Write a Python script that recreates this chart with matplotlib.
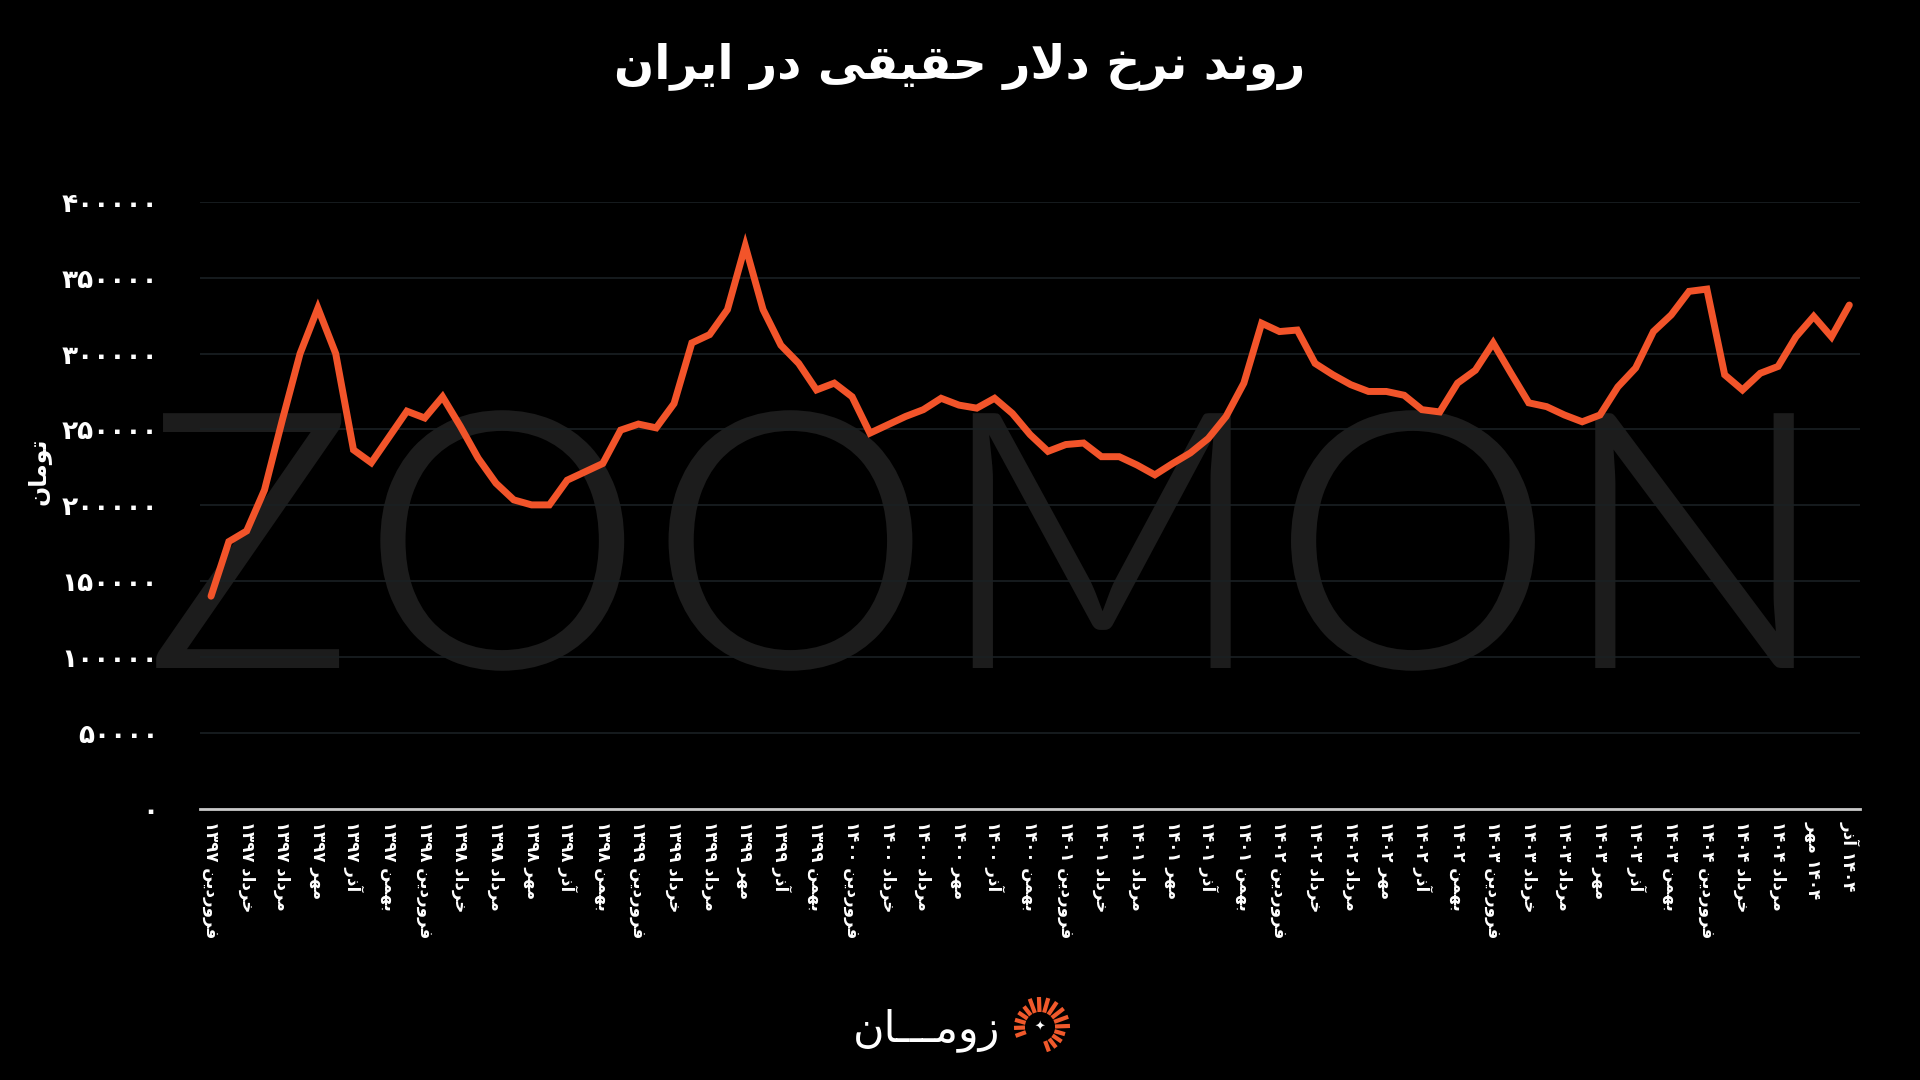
import numpy as np
import matplotlib
matplotlib.use('Agg')
import matplotlib.pyplot as plt
from matplotlib.textpath import TextPath
from matplotlib.patches import PathPatch
from matplotlib.font_manager import FontProperties
from matplotlib.transforms import Affine2D

# ---- data (Toman per USD, monthly, Farvardin 1397 .. Azar 1404) ----
months = ['فروردین', 'خرداد', 'مرداد', 'مهر', 'آذر', 'بهمن']
years = ['1397', '1398', '1399', '1400', '1401', '1402', '1403', '1404']
values = [
    140000, 176000, 183000, 210000, 256000, 300000, 330000, 300000, 236500, 228000,
    245000, 262000, 257500, 271500, 252000, 231000, 214500, 203500, 200200, 200200,
    216500, 222000, 227500, 249500, 253500, 251000, 267000, 307000, 312500, 329000,
    371000, 329000, 305500, 293500, 276000, 280500, 271500, 247500, 253000, 258500,
    263000, 270500, 266000, 264000, 270500, 260500, 246500, 235500, 240000, 241000,
    232000, 232000, 226500, 220000, 227500, 234500, 244000, 258500, 280500, 320000,
    314500, 315500, 293500, 286000, 279500, 275000, 275000, 272500, 263000, 261500,
    280500, 289000, 307000, 287000, 267500, 265000, 259500, 255000, 259500, 278000,
    290500, 314500, 325500, 341000, 342500, 286000, 276000, 287000, 291500, 311000,
    324500, 311000, 332000,
]
yticks = [0, 50000, 100000, 150000, 200000, 250000, 300000, 350000, 400000]
title = 'روند نرخ دلار حقیقی در ایران'
ylabel = 'تومان'
brand = 'زومـــان'

# ---- minimal persian shaping (matplotlib has no bidi / joining) ----
FORMS = {
    'ا': ('\uFE8D', '\uFE8E', None, None),
    'آ': ('\uFE81', '\uFE82', None, None),
    'ب': ('\uFE8F', '\uFE90', '\uFE91', '\uFE92'),
    'ت': ('\uFE95', '\uFE96', '\uFE97', '\uFE98'),
    'ح': ('\uFEA1', '\uFEA2', '\uFEA3', '\uFEA4'),
    'خ': ('\uFEA5', '\uFEA6', '\uFEA7', '\uFEA8'),
    'د': ('\uFEA9', '\uFEAA', None, None),
    'ذ': ('\uFEAB', '\uFEAC', None, None),
    'ر': ('\uFEAD', '\uFEAE', None, None),
    'ز': ('\uFEAF', '\uFEB0', None, None),
    'ف': ('\uFED1', '\uFED2', '\uFED3', '\uFED4'),
    'ق': ('\uFED5', '\uFED6', '\uFED7', '\uFED8'),
    'ل': ('\uFEDD', '\uFEDE', '\uFEDF', '\uFEE0'),
    'م': ('\uFEE1', '\uFEE2', '\uFEE3', '\uFEE4'),
    'ن': ('\uFEE5', '\uFEE6', '\uFEE7', '\uFEE8'),
    'ه': ('\uFEE9', '\uFEEA', '\uFEEB', '\uFEEC'),
    'و': ('\uFEED', '\uFEEE', None, None),
    'ی': ('\uFBFC', '\uFBFD', '\uFBFE', '\uFBFF'),
    'ـ': ('ـ', 'ـ', 'ـ', 'ـ'),
}
LAMALEF = {'ا': ('\uFEFB', '\uFEFC'), 'آ': ('\uFEF5', '\uFEF6')}


def dual(c):
    return c in FORMS and FORMS[c][2] is not None


def shape(word):
    out = []
    i = 0
    n = len(word)
    while i < n:
        c = word[i]
        prev = word[i - 1] if i > 0 else None
        nxt = word[i + 1] if i + 1 < n else None
        jp = prev is not None and dual(prev)
        if c == 'ل' and nxt in LAMALEF:
            out.append(LAMALEF[nxt][1 if jp else 0])
            i += 2
            continue
        if c not in FORMS:
            out.append(c)
            i += 1
            continue
        jn = dual(c) and nxt is not None and nxt in FORMS
        iso, fin, ini, med = FORMS[c]
        if jp and jn:
            out.append(med)
        elif jp:
            out.append(fin)
        elif jn:
            out.append(ini)
        else:
            out.append(iso)
        i += 1
    return ''.join(out)


def rtl(text):
    parts = []
    for w in text.split(' '):
        if any(ch in FORMS for ch in w):
            parts.append(shape(w)[::-1])
        else:
            parts.append(w)
    return ' '.join(reversed(parts))


FA_DIGITS = str.maketrans('0123456789', '۰۱۲۳۴۵۶۷۸۹')


def fa(s):
    return str(s).translate(FA_DIGITS)


# tick labels every two months
xlabels = []
for y in years:
    for m in months:
        if y == '1404' and m == 'بهمن':
            continue
        if y == '1404' and m in ('مهر', 'آذر'):
            xlabels.append(rtl(fa(y) + ' ' + m))
        else:
            xlabels.append(rtl(m + ' ' + fa(y)))

x = np.arange(len(values))

plt.rcParams['font.family'] = ['DejaVu Sans']
fig = plt.figure(figsize=(19.2, 10.8), dpi=100, facecolor='black')

# ZOOMON watermark stretched into its box (pixel coords); black edge thins the strokes
tp = TextPath((0, 0), 'ZOOMON', size=100, prop=FontProperties(family='Lato'))
ext = tp.get_extents()
W, H = 1920.0, 1080.0
x0, x1, ytop, ybot = 151, 1799, 405, 676
sx = (x1 - x0) / ext.width / W
sy = (ybot - ytop) / ext.height / H
wm = Affine2D().translate(-ext.x0, -ext.y0).scale(sx, sy).translate(x0 / W, 1 - ybot / H)
fig.patches.append(PathPatch(tp, transform=wm + fig.transFigure, facecolor='#1c1c1c',
                             edgecolor='black', lw=7.5, zorder=-5))

ax = fig.add_axes([200 / W, 1 - 808.5 / H, 1660 / W, (808.5 - 201.9) / H])
ax.set_facecolor('none')
ax.plot(x, values, color='#f2542a', lw=5, solid_joinstyle='miter', solid_capstyle='round', zorder=3)
ax.set_xlim(-0.62, 92.6)
ax.set_ylim(0, 400000)

ax.set_yticks(yticks)
ax.set_yticklabels([fa(v) for v in yticks], fontsize=19, fontweight='bold', color='white')
ax.set_xticks(x[::2])
ax.set_xticklabels(xlabels, rotation=-90, fontsize=12, fontweight='bold', color='white')
ax.tick_params(axis='both', length=0)
ax.tick_params(axis='y', pad=30)
ax.tick_params(axis='x', pad=9)
ax.yaxis.grid(True, color='#1a2023', lw=1.2)
ax.set_axisbelow(True)
for s in ['top', 'right', 'left']:
    ax.spines[s].set_visible(False)
ax.spines['bottom'].set_color('#c9c9c9')
ax.spines['bottom'].set_linewidth(2)
ax.spines['bottom'].set_zorder(4)

fig.text(38 / W, 1 - 471 / H, rtl(ylabel), rotation=90, ha='center', va='center',
         fontsize=17, fontweight='bold', color='white')
fig.text(0.5, 1 - 66 / H, rtl(title), ha='center', va='center',
         fontsize=34, fontweight='bold', color='white')

# brand at the bottom
fig.text(1000 / W, 1 - 1030 / H, rtl(brand), ha='right', va='center',
         fontsize=31, color='white')
cx, cy = 1040, 1027
for a in np.arange(-70, 205, 18):
    r0 = 15
    r1 = 30 if 0 <= a <= 120 else 26
    t = np.deg2rad(a)
    fig.add_artist(plt.Line2D([(cx + r0 * np.cos(t)) / W, (cx + r1 * np.cos(t)) / W],
                              [1 - (cy - r0 * np.sin(t)) / H, 1 - (cy - r1 * np.sin(t)) / H],
                              transform=fig.transFigure, color='#f0592b', lw=3.0,
                              solid_capstyle='butt'))
fig.text(cx / W, 1 - cy / H, '✦', ha='center', va='center', fontsize=9, color='white')

fig.savefig('out.png', dpi=100, facecolor='black')
